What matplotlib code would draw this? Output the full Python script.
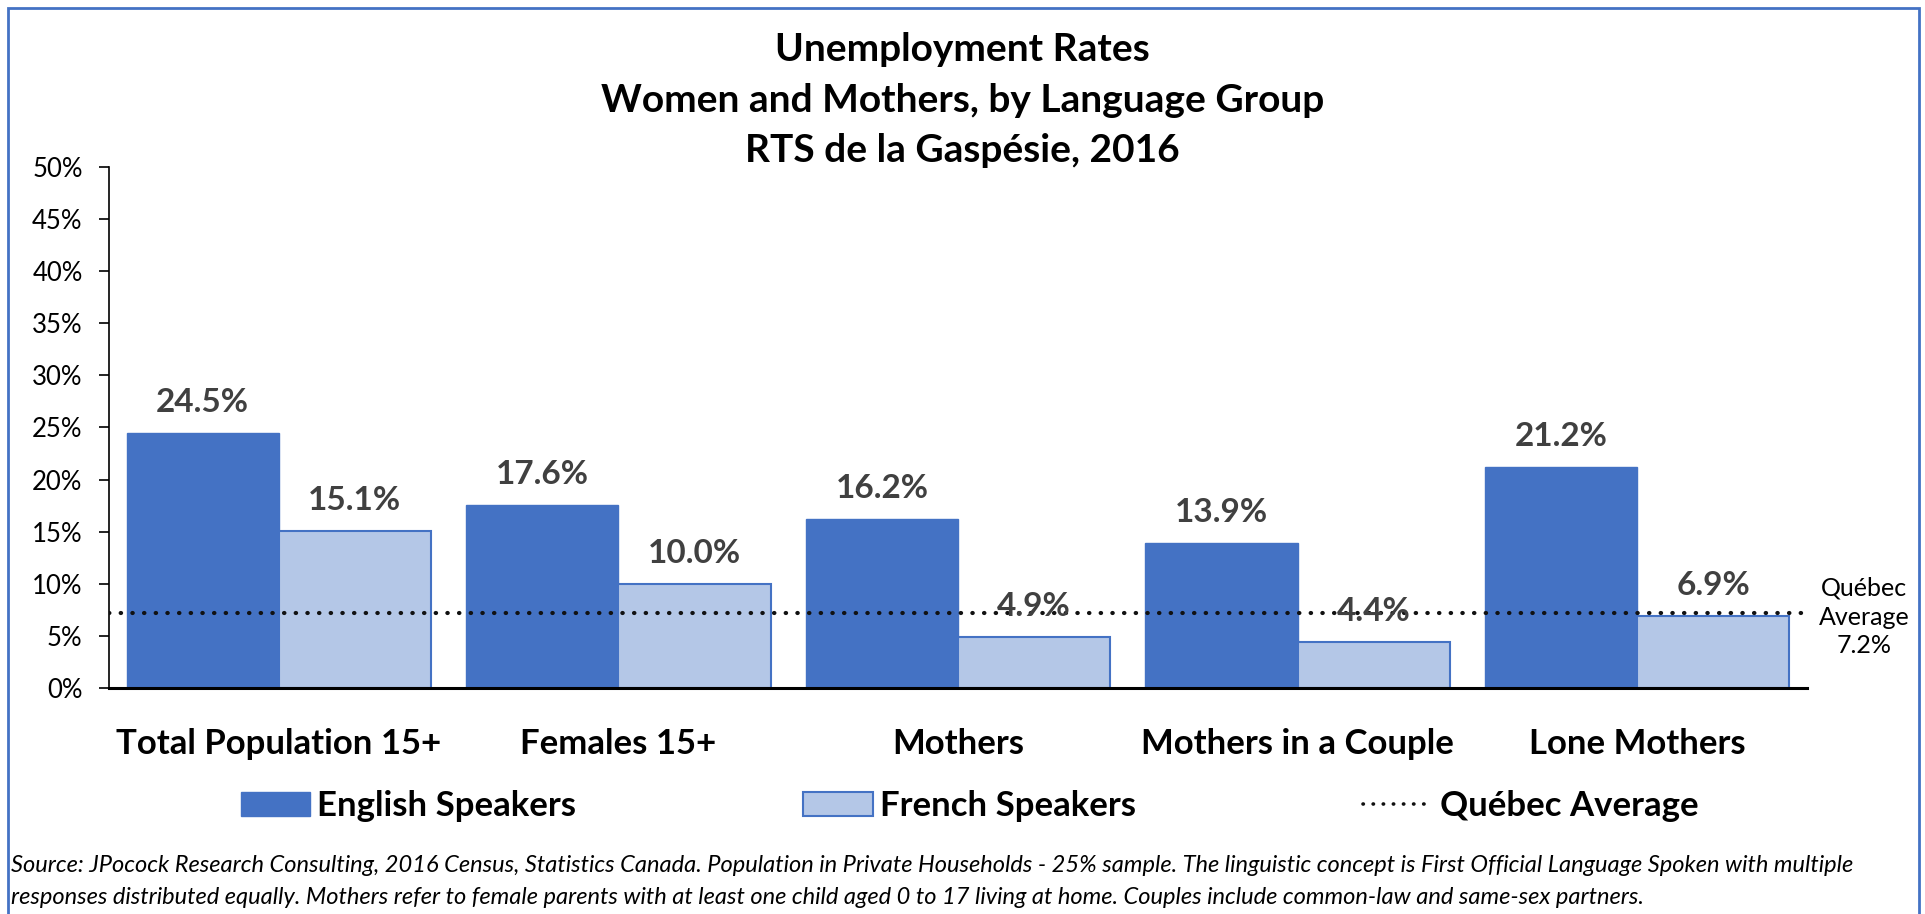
import matplotlib.pyplot as plt
import matplotlib.transforms as mtransforms
from matplotlib.patches import Rectangle, Patch
from matplotlib.lines import Line2D
import numpy as np

plt.rcParams['font.family'] = ['Lato', 'DejaVu Sans']

# Données
categories = ['Total Population 15+', 'Females 15+', 'Mothers', 'Mothers in a Couple', 'Lone Mothers']
english = [24.5, 17.6, 16.2, 13.9, 21.2]
french = [15.1, 10.0, 4.9, 4.4, 6.9]
quebec_avg = 7.2
series_names = ['English Speakers', 'French Speakers', 'Québec Average']
title = 'Unemployment Rates\nWomen and Mothers, by Language Group\nRTS de la Gaspésie, 2016'
source_lines = [
    'Source: JPocock Research Consulting, 2016 Census, Statistics Canada. Population in Private Households - 25% sample. '
    'The linguistic concept is First Official Language Spoken with multiple',
    'responses distributed equally. Mothers refer to female parents with at least one child aged 0 to 17 living at home. '
    'Couples include common-law and same-sex partners.',
]

c_en = '#4472C4'
c_fr = '#B4C7E7'

fig = plt.figure(figsize=(19.25, 9.14), dpi=100)
ax = fig.add_axes([109 / 1925, 226 / 914, 1698 / 1925, 521 / 914])

x = np.arange(len(categories))
w = 0.448
ax.bar(x - w / 2, english, w, color=c_en, edgecolor=c_en, linewidth=1, zorder=2)
ax.bar(x + w / 2, french, w, color=c_fr, edgecolor=c_en, linewidth=1.5, zorder=2)

# Ligne de la moyenne du Québec
ax.axhline(quebec_avg, color='#111111', linewidth=3, linestyle=(0, (0.1, 2.7)),
           dash_capstyle='round', zorder=3)

# Étiquettes de valeurs
for xi, v in zip(x - w / 2, english):
    ax.annotate(f'{v:.1f}%', (xi, v), xytext=(0, 15), textcoords='offset points',
                ha='center', va='baseline', fontsize=24, fontweight='bold', color='#404040', zorder=4)
for xi, v in zip(x + w / 2, french):
    ax.annotate(f'{v:.1f}%', (xi, v), xytext=(0, 15), textcoords='offset points',
                ha='center', va='baseline', fontsize=24, fontweight='bold', color='#404040', zorder=4)

trans = mtransforms.blended_transform_factory(ax.transAxes, ax.transData)
ax.annotate('Québec\nAverage\n7.2%', xy=(1, quebec_avg), xycoords=trans, xytext=(41, -3),
            textcoords='offset points', ha='center', va='center', fontsize=18, linespacing=1.3,
            annotation_clip=False)

ax.set_xlim(-0.5, 4.5)
ax.set_ylim(0, 50)
ax.set_yticks(np.arange(0, 51, 5))
ax.set_yticklabels([f'{t}%' for t in range(0, 51, 5)], fontsize=18.5)
ax.set_xticks(x)
ax.set_xticklabels(categories, fontsize=25, fontweight='bold')
ax.tick_params(axis='x', length=0, pad=29)
ax.tick_params(axis='y', length=7, width=1.2, pad=12)
for s in ['top', 'right']:
    ax.spines[s].set_visible(False)
ax.spines['left'].set_linewidth(1.2)
ax.spines['bottom'].set_linewidth(2.2)

fig.text(0.5, 1 - 100 / 914, title, ha='center', va='center', fontsize=28,
         fontweight='bold', linespacing=1.52)

# Légende
handles = [Patch(facecolor=c_en, edgecolor=c_en),
           Patch(facecolor=c_fr, edgecolor=c_en, linewidth=1.5),
           Line2D([], [], color='#111111', linewidth=2.6, linestyle=(0, (0.1, 2.7)), dash_capstyle='round')]
fig.legend(handles, series_names, loc='center', bbox_to_anchor=(0.5036, 1 - 806 / 914), ncol=3,
           frameon=False, prop={'size': 25, 'weight': 'bold'}, handlelength=2.0,
           handleheight=0.66, handletextpad=0.2, columnspacing=6.55)

for i, line in enumerate(source_lines):
    fig.text(11 / 1925, 1 - (866 + 31 * i) / 914, line, ha='left', va='center',
             fontsize=17, style='italic')

fig.patches.append(Rectangle((8 / 1925, -0.05), (1919 - 8) / 1925, 1 - 8 / 914 + 0.05,
                             transform=fig.transFigure, fill=False, edgecolor=c_en, linewidth=2))

fig.savefig('out.png', dpi=100)
